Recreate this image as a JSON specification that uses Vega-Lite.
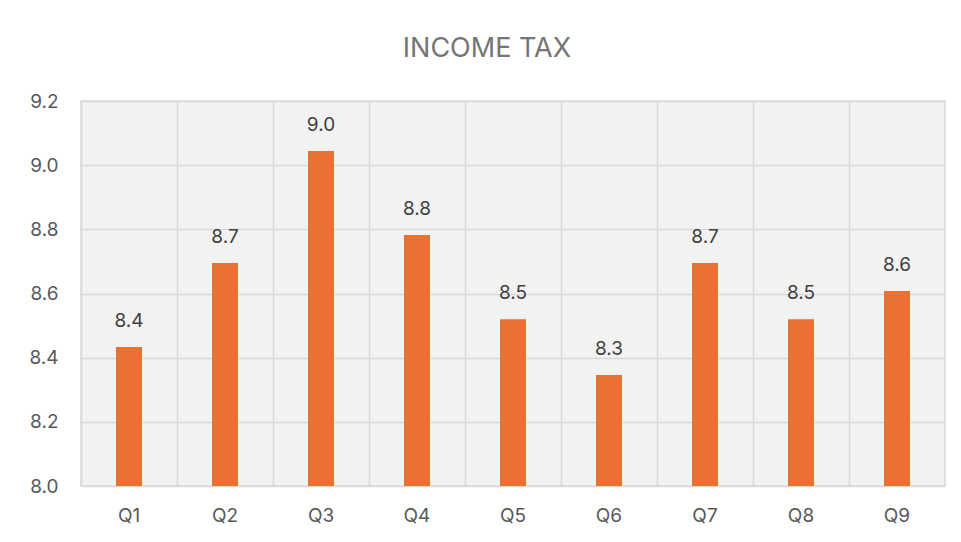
{
  "$schema": "https://vega.github.io/schema/vega-lite/v6.json",
  "autosize": {"type": "none"},
  "padding": {"left": 81, "top": 101, "right": 16, "bottom": 56},
  "width": 864,
  "height": 385,
  "background": "white",
  "config": {
    "font": "Inter",
    "view": {"stroke": "#d9d9d9", "strokeWidth": 1.5, "fill": "#f2f2f2"}
  },
  "title": {
    "text": "INCOME TAX",
    "fontSize": 27,
    "fontWeight": "normal",
    "color": "#757575",
    "anchor": "middle",
    "frame": "bounds",
    "offset": 29
  },
  "data": {
    "values": [
      {"quarter": "Q1", "value": 8.433},
      {"quarter": "Q2", "value": 8.695},
      {"quarter": "Q3", "value": 9.044},
      {"quarter": "Q4", "value": 8.782},
      {"quarter": "Q5", "value": 8.52},
      {"quarter": "Q6", "value": 8.346},
      {"quarter": "Q7", "value": 8.695},
      {"quarter": "Q8", "value": 8.52},
      {"quarter": "Q9", "value": 8.608}
    ]
  },
  "resolve": {"axis": {"x": "independent"}},
  "layer": [
    {
      "mark": {"type": "bar", "color": "#E97132", "width": 26, "clip": true},
      "encoding": {
        "x": {
          "field": "quarter", "type": "nominal", "sort": null,
          "scale": {"paddingInner": 0, "paddingOuter": 0},
          "axis": {
            "title": null, "labelAngle": 0, "labelFontSize": 19, "labelColor": "#595959",
            "labelPadding": 20, "ticks": false, "domain": false, "grid": false
          }
        },
        "y": {
          "field": "value", "type": "quantitative",
          "scale": {"domain": [8.0, 9.2], "nice": false, "zero": false},
          "axis": {
            "title": null, "values": [8.0, 8.2, 8.4, 8.6, 8.8, 9.0, 9.2], "format": ".1f",
            "labelFontSize": 19, "labelColor": "#595959", "labelPadding": 23,
            "ticks": false, "domain": false, "grid": true, "gridColor": "#d9d9d9", "gridWidth": 1.5
          }
        },
        "y2": {"datum": 8.0}
      }
    },
    {
      "mark": {"type": "text", "fontSize": 19, "color": "#404040", "baseline": "alphabetic", "dy": -20},
      "encoding": {
        "x": {
          "field": "quarter", "type": "nominal", "sort": null,
          "axis": {
            "orient": "top", "title": null, "labels": false, "ticks": false, "domain": false,
            "grid": true, "bandPosition": 0, "gridColor": "#d9d9d9", "gridWidth": 1.5
          }
        },
        "y": {"field": "value", "type": "quantitative"},
        "text": {"field": "value", "type": "quantitative", "format": ".1f"}
      }
    }
  ]
}
